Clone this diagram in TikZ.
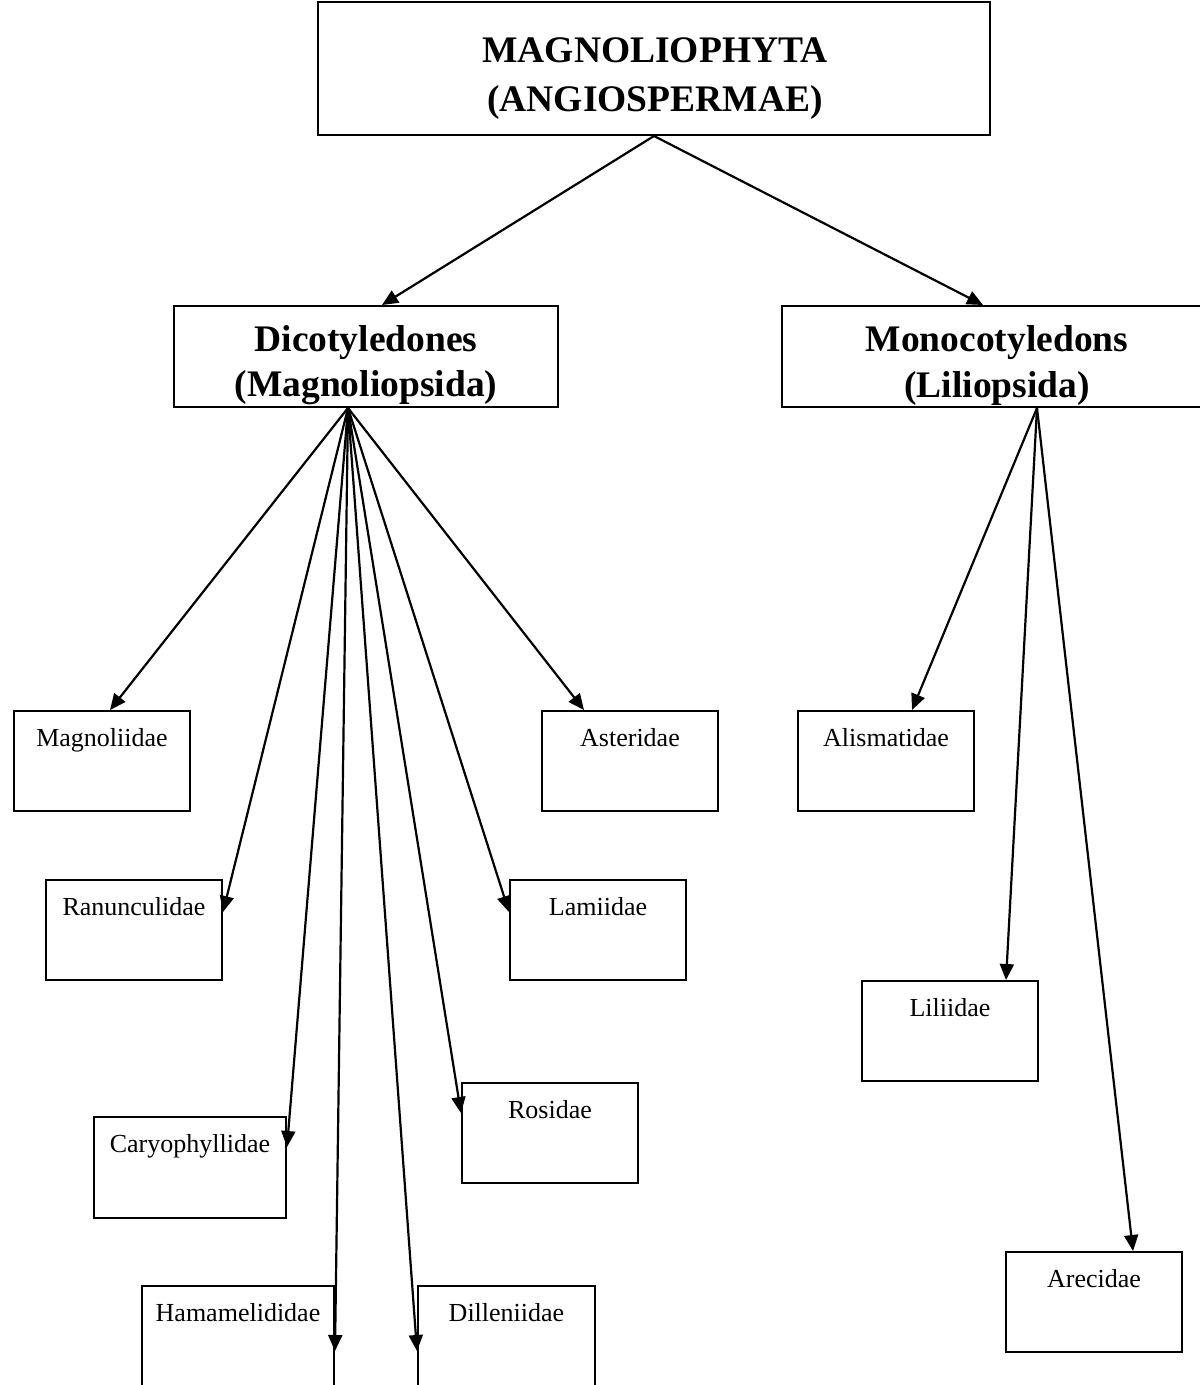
\documentclass[tikz,border=0pt]{standalone}
\usepackage{fontspec}
\setmainfont{Liberation Serif}
\usetikzlibrary{arrows.meta,calc}
\begin{document}
\begin{tikzpicture}[x=1pt,y=-1pt,
  box/.style={draw, line width=2pt, rectangle, inner sep=0pt, anchor=north west},
  leaf/.style={box, minimum width=176pt, minimum height=100pt},
  big/.style={font=\fontsize{37.5}{47}\selectfont\bfseries, anchor=base, inner sep=0pt},
  small/.style={font=\fontsize{26}{30}\selectfont, anchor=base, inner sep=0pt},
  arr/.style={line width=2.2pt, -{Triangle[length=16pt,width=14pt]}}]
\useasboundingbox (0,0) rectangle (1200,1385);

% top box
\node[box, minimum width=672pt, minimum height=133pt] (top) at (317,1) {};
\node[big] (topa) at (655,62) {MAGNOLIOPHYTA};
\node[big] (topb) at (655,111) {(ANGIOSPERMAE)};

% classes
\node[box, minimum width=384pt, minimum height=101pt] (dic) at (173,305) {};
\node[big] (dica) at (366,351) {Dicotyledones};
\node[big] (dicb) at (366,396) {(Magnoliopsida)};

\node[box, minimum width=432pt, minimum height=101pt] (mon) at (781,305) {};
\node[big] (mona) at (997,351) {Monocotyledons};
\node[big] (monb) at (997,397) {(Liliopsida)};

% subclasses
\node[leaf] (mag) at (13,710) {};
\node[small] (magt) at ($(mag.north)+(0,36)$) {Magnoliidae};
\node[leaf] (ran) at (45,879) {};
\node[small] (rant) at ($(ran.north)+(0,36)$) {Ranunculidae};
\node[leaf, minimum width=192pt, minimum height=101pt] (car) at (93,1116) {};
\node[small] (cart) at ($(car.north)+(0,36)$) {Caryophyllidae};
\node[leaf, minimum width=192pt, minimum height=112pt] (ham) at (141,1285) {};
\node[small] (hamt) at ($(ham.north)+(0,36)$) {Hamamelididae};
\node[leaf, minimum width=177pt, minimum height=112pt] (dil) at (417,1285) {};
\node[small] (dilt) at ($(dil.north)+(0,36)$) {Dilleniidae};
\node[leaf] (ros) at (461,1082) {};
\node[small] (rost) at ($(ros.north)+(0,36)$) {Rosidae};
\node[leaf] (lam) at (509,879) {};
\node[small] (lamt) at ($(lam.north)+(0,36)$) {Lamiidae};
\node[leaf] (ast) at (541,710) {};
\node[small] (astt) at ($(ast.north)+(0,36)$) {Asteridae};

\node[leaf] (ali) at (797,710) {};
\node[small] (alit) at ($(ali.north)+(0,36)$) {Alismatidae};
\node[leaf] (lil) at (861,980) {};
\node[small] (lilt) at ($(lil.north)+(0,36)$) {Liliidae};
\node[leaf] (are) at (1005,1251) {};
\node[small] (aret) at ($(are.north)+(0,36)$) {Arecidae};

% connectors
\draw[arr] (top.south) -- ($(dic.north west)+(209,0)$);
\draw[arr] (top.south) -- ($(mon.north west)+(202,0)$);

\coordinate (ds) at ($(dic.south west)+(175,0)$);
\coordinate (ms) at ($(mon.south west)+(256,0)$);

\draw[arr] (ds) -- ($(mag.north west)+(97,0)$);
\draw[arr] (ds) -- ($(ran.north east)+(0,33)$);
\draw[arr] (ds) -- ($(car.north east)+(0,31)$);
\draw[arr] (ds) -- ($(ham.north east)+(0,66)$);
\draw[arr] (ds) -- ($(dil.north west)+(0,66)$);
\draw[arr] (ds) -- ($(ros.north west)+(0,31)$);
\draw[arr] (ds) -- ($(lam.north west)+(0,33)$);
\draw[arr] (ds) -- ($(ast.north west)+(43,0)$);

\draw[arr] (ms) -- ($(ali.north west)+(115,0)$);
\draw[arr] (ms) -- ($(lil.north west)+(145,0)$);
\draw[arr] (ms) -- ($(are.north west)+(128,0)$);
\end{tikzpicture}
\end{document}
